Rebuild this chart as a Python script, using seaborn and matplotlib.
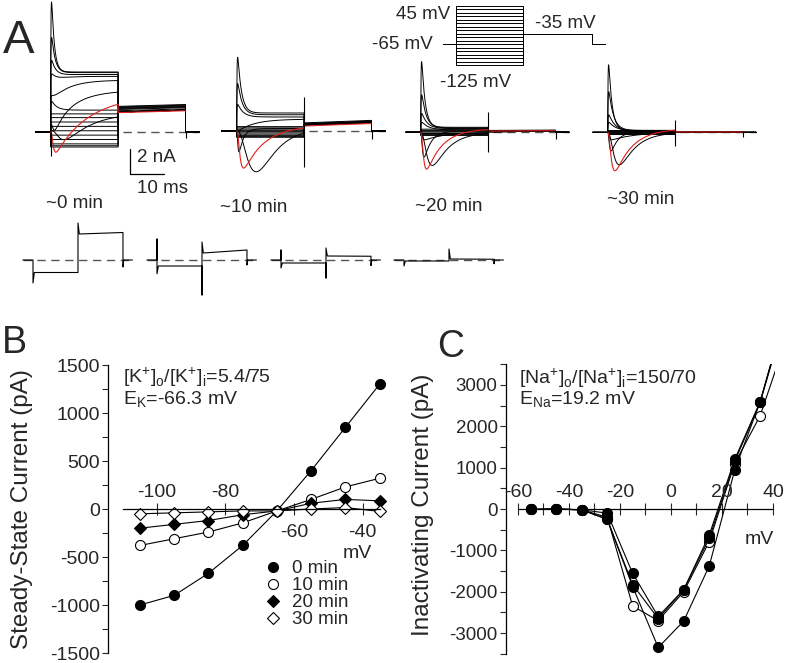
import numpy as np
import matplotlib
matplotlib.use("Agg")
import matplotlib.pyplot as plt
import seaborn as sns
from matplotlib.lines import Line2D
from matplotlib.ticker import MultipleLocator

W, H = 785, 663

# ---------------- panel B: steady-state current (pA) vs step potential (mV)
iv_k_mv = [-105, -95, -85, -75, -65, -55, -45, -35]
iv_k_0min = [-1000, -900, -670, -380, -20, 400, 850, 1300]
iv_k_10min = [-380, -310, -240, -145, -20, 100, 230, 320]
iv_k_20min = [-200, -160, -120, -60, -20, 60, 100, 85]
iv_k_30min = [-50, -40, -30, -20, -20, 0, 15, -25]

# ---------------- panel C: inactivating current (pA); the 45 mV point runs off the top
iv_na_mv = [-55, -45, -35, -25, -15, -5, 5, 15, 25, 35, 45]
iv_na_0min = [-10, 0, -20, -250, -1880, -3350, -2710, -1380, 940, 2600, 4750]
iv_na_10min = [-10, 0, -20, -200, -2350, -2700, -2000, -790, 1100, 2260, 4080]
iv_na_20min = [-10, 0, -20, -100, -1560, -2600, -1950, -630, 1200, 2600, 4800]
iv_na_30min = [-10, 0, -20, -250, -1830, -2650, -1950, -710, 1150, 2580, 4700]

# ---------------- panel A: sweeps (nA, ms)
# (start level, steady level, rise tau, inward peak, inward rise tau, inward decay tau,
#  outward peak above steady, outward decay tau, tail level)
sweeps_0min = [
    (4.8, 4.8, 1, 0, 1, 1, 5.6, 0.8, 2.05),
    (4.7, 4.75, 1, 0, 1, 1, 2.85, 1.0, 2.0),
    (4.4, 4.6, 2, 0, 1, 1, 1.3, 1.2, 1.95),
    (4.0, 4.45, 3, 0, 1, 1, 0.6, 1.4, 1.9),
    (2.4, 4.15, 5, 0, 1, 1, 0.4, 1.0, 1.85),
    (0.6, 3.35, 7, 0.9, 0.5, 3, 0, 1, 1.8),
    (0.0, 1.6, 6, 1.45, 1.8, 9, 0, 1, 1.6),
    (1.75, 1.75, 1, 0, 1, 1, 0.7, 1.5, 1.7),
]
sweeps_10min = [
    (1.44, 1.44, 1, 0, 1, 1, 4.46, 1.1, 0.65),
    (1.3, 1.3, 1, 0, 1, 1, 2.5, 1.3, 0.6),
    (1.12, 1.12, 1, 0, 1, 1, 1.0, 1.6, 0.55),
    (-0.1, 0.95, 5, 0, 1, 1, 0, 1, 0.55),
    (0.0, 0.2, 5, 3.4, 3.5, 5, 0, 1, 0.45),
    (0.0, 0.2, 3, 1.7, 0.25, 1.2, 0, 1, 0.5),
]
sweeps_20min = [
    (0.4, 0.4, 1, 0, 1, 1, 5.25, 1.0, 0.15),
    (0.35, 0.35, 1, 0, 1, 1, 2.65, 1.3, 0.12),
    (0.3, 0.3, 1, 0, 1, 1, 1.2, 1.6, 0.1),
    (0.2, 0.2, 1, 0, 1, 1, 0.6, 2.0, 0.1),
    (0.0, 0.0, 1, 2.65, 1.5, 4.5, 0, 1, 0.08),
    (0.0, 0.1, 3, 2.0, 0.35, 2.0, 0, 1, 0.08),
    (0.0, 0.0, 1, 0.6, 0.3, 6, 0, 1, 0.05),
]
sweeps_30min = [
    (0.15, 0.15, 1, 0, 1, 1, 5.25, 1.0, 0.03),
    (0.15, 0.15, 1, 0, 1, 1, 3.1, 1.4, 0.03),
    (0.1, 0.1, 1, 0, 1, 1, 1.3, 1.8, 0.03),
    (0.1, 0.1, 1, 0, 1, 1, 0.7, 2.2, 0.03),
    (0.0, 0.0, 1, 2.6, 1.5, 4.5, 0, 1, 0.02),
    (0.0, 0.05, 3, 1.5, 0.35, 2.0, 0, 1, 0.02),
    (0.0, 0.0, 1, 0.6, 0.3, 7, 0, 1, 0.02),
]
red_sweeps = [
    (0.0, 3.0, 12, 2.0, 0.45, 8, 0, 1, 1.55),
    (0.0, 0.45, 8, 3.07, 0.62, 6, 0, 1, 0.4),
    (0.0, 0.3, 8, 3.0, 0.55, 4.5, 0, 1, 0.1),
    (0.0, 0.3, 8, 3.15, 0.7, 5, 0, 1, 0.03),
]
flat_0min = [1.45, 1.15, 0.8, 0.45, 0.1, -0.25, -0.6, -0.95, -1.1, -1.2]
flat_10min = [0.35, 0.25, 0.15, 0.05, -0.05, -0.15, -0.25, -0.35, -0.45, -0.5]
flat_20min = [0.25, 0.15, 0.05, -0.05, -0.1, -0.15, -0.2, -0.25]
flat_30min = [0.15, 0.08, 0.0, -0.05, -0.1, -0.15]
flat_tails = [1.6, 0.5, 0.05, 0.02]
tail_rise = [0.15, 0.2, 0.03, 0.0]
end_spike = [(0, 0), (2.75, -2.85), (1.6, -1.6), (1.0, -1.1)]
tail_spike = [-0.45, -0.6, -0.5, -0.35]
time_labels = ["~0 min", "~10 min", "~20 min", "~30 min"]

# leak sweeps (second row): spikes and levels, nA
leak_step1 = [(0, -1.84), (1.68, -1.1), (0.8, -0.64), (0, -0.48)]
leak_level1 = [-1.0, -0.48, -0.24, -0.08]
leak_step2 = [(-1.0, 2.96), (-2.8, 1.44), (-1.44, 0.96), (-0.08, 0.88)]
leak_level2 = [(2.08, 2.2), (0.56, 0.8), (0.32, 0.3), (0.08, 0.06)]
leak_return = [-0.56, -0.4, -0.45, -0.3]

# voltage protocol
step_mv = [-125, -115, -105, -95, -85, -75, -65, -55, -45, -35, -25, -15, -5, 5, 15, 25, 35, 45]
hold_mv, tail_mv = -65, -35

PULSE_MS, TAIL_MS, T_START, T_STOP = 20.0, 40.0, -4.4, 44.0
PX_MS, PX_NA = 3.37, 12.5

sns.set_style("ticks")
plt.rcParams["font.family"] = ["Liberation Sans", "DejaVu Sans"]
plt.rcParams["mathtext.fontset"] = "custom"
plt.rcParams["mathtext.rm"] = "Liberation Sans"
plt.rcParams["axes.unicode_minus"] = False

fig = plt.figure(figsize=(W / 100, H / 100), dpi=100)


def px_axes(x0, y0, x1, y1):
    return fig.add_axes([x0 / W, 1 - y1 / H, (x1 - x0) / W, (y1 - y0) / H])


def ptext(x, y, s, **kw):
    return fig.text(x / W, 1 - y / H, s, **kw)


def trace_axes(x_t0, y_zero, tlim, ilim, px_u=PX_NA):
    ax = px_axes(x_t0 + tlim[0] * PX_MS, y_zero - ilim[1] * px_u,
                 x_t0 + tlim[1] * PX_MS, y_zero - ilim[0] * px_u)
    ax.set_xlim(tlim)
    ax.set_ylim(ilim)
    ax.axis("off")
    return ax


def sweep(p, rise, full=True):
    s0, s, ta, na, tm, th, out, tout, tail = p
    tp = np.linspace(0, PULSE_MS, 801)
    cur = s0 + (s - s0) * (1 - np.exp(-tp / ta))
    if na:
        g = (1 - np.exp(-tp / tm)) ** 3 * np.exp(-tp / th)
        cur = cur - na * g / g.max()
    if out:
        h = np.exp(-tp / tout) * (1 - np.exp(-tp / 0.12))
        cur = cur + out * h / h.max()
    if not full:
        return (np.concatenate([tp, [PULSE_MS, TAIL_MS]]),
                np.concatenate([cur, [tail, tail + rise]]))
    t = np.concatenate([[T_START, 0], tp, [PULSE_MS, TAIL_MS, TAIL_MS, T_STOP]])
    c = np.concatenate([[0, 0], cur, [tail, tail + rise, 0, 0]])
    return t, c


# ---------------- panel A
sets = [(sweeps_0min, flat_0min), (sweeps_10min, flat_10min),
        (sweeps_20min, flat_20min), (sweeps_30min, flat_30min)]
set_x0 = [50.7, 236.7, 420.7, 607.7]
set_y0 = [132, 131, 132.3, 132.3]
label_xy = [(74, 208), (254, 212), (449, 211), (641, 204)]
for k, (sw, flats) in enumerate(sets):
    ax = trace_axes(set_x0[k], set_y0[k], (-5, 45), (-4.0, 10.8))
    ax.plot([21.5, T_STOP], [0, 0], color="#555555", lw=1.0, dashes=(6, 4))
    for lvl in flats:
        t, c = sweep((lvl, lvl, 1, 0, 1, 1, 0, 1, flat_tails[k]), tail_rise[k])
        ax.plot(t, c, color="k", lw=0.7)
    for p in sw:
        t, c = sweep(p, tail_rise[k])
        ax.plot(t, c, color="k", lw=0.7)
    t, c = sweep(red_sweeps[k], tail_rise[k], full=False)
    ax.plot(t, c, color="#e0201b", lw=0.8)
    if end_spike[k][0]:
        ax.vlines(PULSE_MS, end_spike[k][1], end_spike[k][0], color="k", lw=0.8)
    ax.vlines(TAIL_MS, tail_spike[k], 0.1, color="k", lw=0.8)
    if k == 0:
        ax.vlines(0, -1.9, 0, color="k", lw=0.8)
        # scale bar 2 nA / 10 ms
        ax.plot([23.5, 23.5, 33.5], [-1.36, -3.36, -3.36], color="k", lw=0.9)
    ptext(label_xy[k][0], label_xy[k][1], time_labels[k], fontsize=13.5,
          ha="center", va="baseline")

ptext(137, 162, "2 nA", fontsize=13.5, va="baseline")
ptext(137, 193, "10 ms", fontsize=13.5, va="baseline")

# leak sweeps (second row)
leak_x0 = [33, 157, 281, 404]
for k in range(4):
    ax = trace_axes(leak_x0[k], 260, (-4, 31), (-3.5, 3.5))
    ax.plot([-3, 29.5], [0, 0], color="#555555", lw=1.0, dashes=(6, 4))
    up1, dn1 = leak_step1[k]
    dn2, up2 = leak_step2[k]
    l2a, l2b = leak_level2[k]
    t = [-3, 0, 0, 0, 0.4, 13.35, 13.35, 13.35, 13.75, 26.7, 26.7, 26.9, 29.5]
    c = [0, 0, up1, dn1, leak_level1[k], leak_level1[k], dn2, up2, l2a, l2b,
         leak_return[k], 0, 0]
    ax.plot(t, c, color="k", lw=0.8)

# voltage protocol inset
axp = px_axes(456 - 5 * PX_MS, 6 - 10 * 0.347, 456 + 46 * PX_MS, 6 + 180 * 0.347)
axp.set_xlim(-5, 46)
axp.set_ylim(-135, 55)
axp.axis("off")
for v in step_mv:
    axp.plot([-3.9, 0, 0, PULSE_MS, PULSE_MS, 40.4, 40.4, 44.2],
             [hold_mv, hold_mv, v, v, tail_mv, tail_mv, hold_mv, hold_mv],
             color="k", lw=0.7)
ptext(450, 19, "45 mV", fontsize=13.5, ha="right", va="baseline")
ptext(433, 49, "-65 mV", fontsize=13.5, ha="right", va="baseline")
ptext(440, 87, "-125 mV", fontsize=13.5, ha="left", va="baseline")
ptext(535, 28, "-35 mV", fontsize=13.5, ha="left", va="baseline")

# ---------------- panel B
axb = px_axes(108, 365, 386.5, 653)
styles_b = [(iv_k_0min, "o", "k", 7.2, "0 min"), (iv_k_10min, "o", "white", 7.2, "10 min"),
            (iv_k_20min, "D", "k", 6.0, "20 min"), (iv_k_30min, "D", "white", 6.0, "30 min")]
handles = []
for vals, m, fc, ms, lab in styles_b:
    sns.lineplot(x=iv_k_mv, y=vals, ax=axb, color="k", lw=0.8, marker=m, markersize=ms,
                 markerfacecolor=fc, markeredgecolor="k", markeredgewidth=0.8)
    handles.append(Line2D([], [], ls="none", marker=m, markersize=ms, markerfacecolor=fc,
                          markeredgecolor="k", markeredgewidth=0.8, label=lab))
axb.set_xlim(-114.3, -33)
axb.set_ylim(-1500, 1500)
axb.yaxis.set_major_locator(MultipleLocator(500))
axb.yaxis.set_minor_locator(MultipleLocator(250))
axb.set_xticks([-100, -80, -60, -40])
axb.tick_params(axis="y", which="both", direction="out", length=4, width=0.8,
                labelsize=14, pad=2)
axb.tick_params(axis="x", direction="inout", length=9, width=0.8, labelbottom=False)
for s in ("top", "right"):
    axb.spines[s].set_visible(False)
axb.spines["bottom"].set_position(("data", 0))
axb.spines["bottom"].set_bounds(-110, -35)
for s in ("left", "bottom"):
    axb.spines[s].set_linewidth(0.9)
    axb.spines[s].set_color("k")
for tv in (-100, -80):
    axb.annotate(str(tv), xy=(tv, 0), xytext=(0, 12), textcoords="offset pixels",
                 ha="center", va="baseline", fontsize=14)
for tv in (-60, -40):
    axb.annotate(str(tv), xy=(tv, 0), xytext=(0, -28), textcoords="offset pixels",
                 ha="center", va="baseline", fontsize=14)
axb.set_xlabel("")
axb.set_ylabel("")
axb.legend(handles=handles, loc="upper left", bbox_to_anchor=(263.6 / W, 1 - 560 / H),
           bbox_transform=fig.transFigure, frameon=False, fontsize=13.5, handlelength=1.0,
           handletextpad=0.5, labelspacing=0.0, borderpad=0, borderaxespad=0)
ptext(343, 558, "mV", fontsize=14, va="baseline")
ptext(22, 509, "Steady-State Current (pA)", fontsize=17.5, rotation=90,
      ha="center", va="center")
ptext(123, 383, r"[K$^{\mathregular{+}}$]$_{\mathregular{o}}$/[K$^{\mathregular{+}}$]$_{\mathregular{i}}$=5.4/75",
      fontsize=14, va="baseline")
ptext(123, 405, r"E$_{\mathregular{K}}$=-66.3 mV", fontsize=14, va="baseline")

# ---------------- panel C (10 min drawn first so the filled markers sit on top)
axc = px_axes(506, 364.3, 775.5, 653.7)
styles_c = [(iv_na_10min, "white"), (iv_na_0min, "k"), (iv_na_20min, "k"), (iv_na_30min, "k")]
for vals, fc in styles_c:
    sns.lineplot(x=iv_na_mv, y=vals, ax=axc, color="k", lw=0.8, marker="o", markersize=7.2,
                 markerfacecolor=fc, markeredgecolor="k", markeredgewidth=0.8)
axc.set_xlim(-64.7, 41)
axc.set_ylim(-3500, 3500)
axc.yaxis.set_major_locator(MultipleLocator(1000))
axc.yaxis.set_minor_locator(MultipleLocator(500))
axc.xaxis.set_major_locator(MultipleLocator(10))
axc.tick_params(axis="y", which="both", direction="out", length=4, width=0.8,
                labelsize=13.5, pad=2)
axc.tick_params(axis="x", direction="inout", length=9, width=0.8, labelbottom=False)
for s in ("top", "right"):
    axc.spines[s].set_visible(False)
axc.spines["bottom"].set_position(("data", 0))
axc.spines["bottom"].set_bounds(-60, 40)
for s in ("left", "bottom"):
    axc.spines[s].set_linewidth(0.9)
    axc.spines[s].set_color("k")
for tv in (-60, -40, -20, 0, 20, 40):
    axc.annotate(str(tv), xy=(tv, 0), xytext=(0, 12), textcoords="offset pixels",
                 ha="center", va="baseline", fontsize=14)
axc.set_xlabel("")
axc.set_ylabel("")
ptext(745, 544, "mV", fontsize=14, va="baseline")
ptext(423, 505, "Inactivating Current (pA)", fontsize=17.5, rotation=90,
      ha="center", va="center")
ptext(519, 384, r"[Na$^{\mathregular{+}}$]$_{\mathregular{o}}$/[Na$^{\mathregular{+}}$]$_{\mathregular{i}}$=150/70",
      fontsize=14, va="baseline")
ptext(519, 405, r"E$_{\mathregular{Na}}$=19.2 mV", fontsize=14, va="baseline")

# panel letters
ptext(3, 53, "A", fontsize=34, va="baseline")
ptext(2, 353, "B", fontsize=27, va="baseline")
ptext(437, 357, "C", fontsize=27, va="baseline")

fig.savefig("out.png", dpi=100)
